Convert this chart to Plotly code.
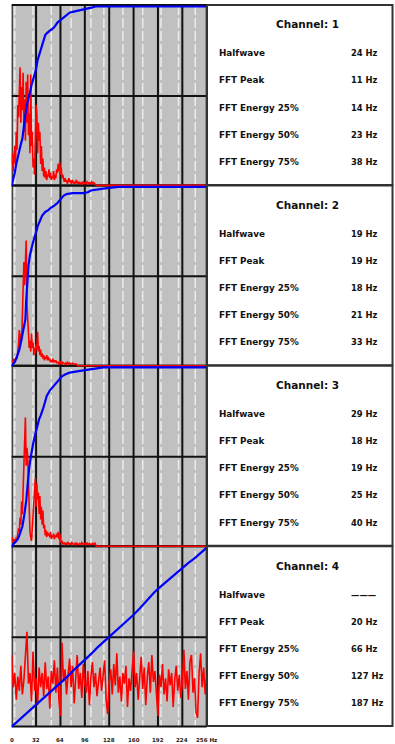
import plotly.graph_objects as go

W, H = 395, 744

# ---- axis ticks -------------------------------------------------------------
freq_ticks = [0, 32, 64, 96, 128, 160, 192, 224, 256]
tick_text = ["0", "32", "64", "96", "128", "160", "192", "224", "256 Hz"]
minor_lines = [4, 28, 52, 78, 104, 121, 146, 172, 196, 219, 241]

# ---- per-channel statistics -------------------------------------------------
channel_titles = ["Channel: 1", "Channel: 2", "Channel: 3", "Channel: 4"]
stat_labels = ["Halfwave", "FFT Peak", "FFT Energy 25%", "FFT Energy 50%", "FFT Energy 75%"]
ch1_stats = ["24 Hz", "11 Hz", "14 Hz", "23 Hz", "38 Hz"]
ch2_stats = ["19 Hz", "19 Hz", "18 Hz", "21 Hz", "33 Hz"]
ch3_stats = ["29 Hz", "18 Hz", "19 Hz", "25 Hz", "40 Hz"]
ch4_stats = ["———", "20 Hz", "66 Hz", "127 Hz", "187 Hz"]

# ---- spectra (relative magnitude) ------------------------------------------
ch1_fft_hz = list(range(111)) + [111, 256]
ch1_fft = [
    0.12, 0.18, 0.08, 0.15, 0.22, 0.12, 0.30, 0.20, 0.45, 0.38,
    0.65, 0.66, 0.35, 0.55, 0.42, 0.63, 0.30, 0.48, 0.25, 0.58,
    0.35, 0.62, 0.28, 0.40, 0.18, 0.62, 0.22, 0.30, 0.10, 0.15,
    0.06, 0.30, 0.45, 0.40, 0.18, 0.35, 0.25, 0.30, 0.12, 0.22,
    0.08, 0.15, 0.05, 0.10, 0.04, 0.08, 0.03, 0.06, 0.05, 0.09,
    0.04, 0.07, 0.03, 0.05, 0.04, 0.08, 0.03, 0.06, 0.04, 0.09,
    0.07, 0.12, 0.08, 0.13, 0.06, 0.10, 0.04, 0.06, 0.03, 0.02,
    0.04, 0.02, 0.03, 0.01, 0.02, 0.04, 0.02, 0.03, 0.01, 0.02,
    0.03, 0.01, 0.02, 0.01, 0.02, 0.03, 0.01, 0.02, 0.01, 0.02,
    0.01, 0.01, 0.015, 0.01, 0.02, 0.01, 0.01, 0.015, 0.01, 0.02,
    0.01, 0.01, 0.015, 0.01, 0.01, 0.02, 0.01, 0.01, 0.015, 0.01,
    0.01, 0.0, 0.0,
]

ch2_fft_hz = list(range(86)) + [86, 256]
ch2_fft = [
    0.02, 0.03, 0.02, 0.04, 0.02, 0.03, 0.05, 0.04, 0.08, 0.12,
    0.20, 0.10, 0.18, 0.14, 0.28, 0.40, 0.58, 0.45, 0.62, 0.70,
    0.35, 0.28, 0.15, 0.10, 0.14, 0.08, 0.18, 0.10, 0.13, 0.06,
    0.10, 0.07, 0.12, 0.09, 0.19, 0.08, 0.11, 0.06, 0.09, 0.05,
    0.07, 0.04, 0.06, 0.03, 0.05, 0.04, 0.06, 0.03, 0.05, 0.03,
    0.04, 0.02, 0.03, 0.02, 0.04, 0.02, 0.03, 0.02, 0.03, 0.015,
    0.02, 0.02, 0.01, 0.015, 0.02, 0.01, 0.01, 0.02, 0.015, 0.01,
    0.01, 0.015, 0.01, 0.02, 0.01, 0.01, 0.015, 0.01, 0.01, 0.01,
    0.015, 0.01, 0.01, 0.01, 0.01, 0.01, 0.0, 0.0,
]

ch3_fft_hz = list(range(111)) + [111, 256]
ch3_fft = [
    0.03, 0.05, 0.02, 0.03, 0.04, 0.02, 0.05, 0.04, 0.07, 0.10,
    0.08, 0.16, 0.12, 0.25, 0.18, 0.30, 0.52, 0.60, 0.72, 0.45,
    0.55, 0.50, 0.30, 0.15, 0.08, 0.05, 0.03, 0.10, 0.18, 0.25,
    0.30, 0.38, 0.22, 0.35, 0.26, 0.30, 0.18, 0.28, 0.15, 0.22,
    0.12, 0.20, 0.10, 0.12, 0.06, 0.09, 0.05, 0.08, 0.06, 0.07,
    0.05, 0.08, 0.04, 0.06, 0.05, 0.07, 0.04, 0.06, 0.05, 0.07,
    0.05, 0.08, 0.04, 0.07, 0.03, 0.02, 0.03, 0.01, 0.02, 0.01,
    0.02, 0.01, 0.015, 0.01, 0.02, 0.01, 0.01, 0.015, 0.01, 0.02,
    0.01, 0.01, 0.01, 0.015, 0.01, 0.02, 0.01, 0.01, 0.01, 0.015,
    0.01, 0.01, 0.02, 0.01, 0.01, 0.015, 0.01, 0.01, 0.01, 0.02,
    0.01, 0.01, 0.015, 0.01, 0.01, 0.01, 0.015, 0.01, 0.01, 0.02,
    0.01, 0.0, 0.0,
]

ch4_fft_hz = list(range(0, 257, 2))
ch4_fft = [
    0.40, 0.22, 0.30, 0.15, 0.28, 0.20, 0.34, 0.18, 0.26, 0.38,
    0.53, 0.24, 0.30, 0.14, 0.42, 0.20, 0.27, 0.12, 0.33, 0.22,
    0.30, 0.17, 0.36, 0.21, 0.28, 0.10, 0.31, 0.24, 0.37, 0.19,
    0.33, 0.15, 0.06, 0.47, 0.25, 0.32, 0.18, 0.29, 0.38, 0.22,
    0.34, 0.13, 0.27, 0.40, 0.21, 0.30, 0.16, 0.35, 0.24, 0.19,
    0.31, 0.12, 0.28, 0.36, 0.22, 0.30, 0.17, 0.26, 0.33, 0.20,
    0.29, 0.37, 0.15, 0.07, 0.25, 0.32, 0.18, 0.35, 0.23, 0.41,
    0.19, 0.28, 0.14, 0.30, 0.24, 0.34, 0.11, 0.27, 0.20, 0.33,
    0.42, 0.22, 0.30, 0.15, 0.26, 0.39, 0.21, 0.33, 0.12, 0.28,
    0.36, 0.19, 0.40, 0.25, 0.31, 0.17, 0.06, 0.29, 0.22, 0.35,
    0.18, 0.27, 0.14, 0.32, 0.23, 0.30, 0.11, 0.26, 0.34, 0.20,
    0.29, 0.16, 0.24, 0.43, 0.21, 0.31, 0.15, 0.36, 0.40, 0.19,
    0.27, 0.08, 0.05, 0.30, 0.41, 0.22, 0.33, 0.18, 0.27,
]

# ---- cumulative energy (fraction of total) ----------------------------------
ch1_cum_hz = [0, 2, 4, 6, 8, 10, 12, 14, 16, 18, 20, 22, 24, 26, 28, 30, 32, 34,
              36, 38, 40, 42, 44, 46, 48, 50, 52, 56, 60, 64, 68, 72, 76, 80, 86,
              90, 96, 100, 106, 110, 256]
ch1_cum = [0.00, 0.03, 0.07, 0.12, 0.16, 0.19, 0.23, 0.26, 0.34, 0.40, 0.45, 0.48,
           0.52, 0.56, 0.59, 0.62, 0.65, 0.70, 0.73, 0.76, 0.79, 0.82, 0.84, 0.85,
           0.86, 0.865, 0.87, 0.885, 0.91, 0.925, 0.94, 0.955, 0.965, 0.97, 0.975,
           0.98, 0.985, 0.99, 0.995, 1.0, 1.0]

ch2_cum_hz = [0, 2, 4, 6, 8, 10, 12, 14, 16, 18, 19, 20, 21, 22, 24, 26, 28, 30,
              32, 33, 34, 36, 38, 40, 44, 48, 52, 56, 60, 64, 68, 72, 80, 94, 100,
              104, 110, 120, 140, 256]
ch2_cum = [0.00, 0.01, 0.02, 0.04, 0.06, 0.09, 0.13, 0.17, 0.22, 0.26, 0.36, 0.45,
           0.51, 0.56, 0.62, 0.66, 0.69, 0.72, 0.74, 0.76, 0.78, 0.80, 0.82, 0.84,
           0.86, 0.87, 0.885, 0.895, 0.91, 0.93, 0.95, 0.96, 0.965, 0.965, 0.97,
           0.98, 0.985, 0.99, 1.0, 1.0]

ch3_cum_hz = [0, 2, 4, 6, 8, 10, 12, 14, 16, 18, 19, 20, 21, 22, 23, 24, 25, 26,
              28, 30, 32, 34, 36, 38, 40, 42, 44, 46, 50, 54, 58, 62, 66, 70, 76,
              90, 104, 112, 120, 256]
ch3_cum = [0.00, 0.01, 0.02, 0.03, 0.04, 0.06, 0.08, 0.11, 0.16, 0.21, 0.25, 0.30,
           0.36, 0.41, 0.44, 0.47, 0.50, 0.53, 0.57, 0.61, 0.65, 0.68, 0.71, 0.73,
           0.75, 0.78, 0.81, 0.84, 0.87, 0.89, 0.91, 0.93, 0.95, 0.96, 0.97, 0.98,
           0.99, 0.995, 1.0, 1.0]

ch4_cum_hz = [0, 8, 16, 24, 32, 40, 48, 56, 64, 66, 72, 80, 88, 96, 104, 112, 120,
              127, 136, 144, 152, 160, 168, 176, 184, 187, 192, 200, 208, 216, 224,
              232, 240, 248, 256]
ch4_cum = [0.0, 0.03, 0.06, 0.09, 0.12, 0.155, 0.185, 0.215, 0.245, 0.25, 0.275,
           0.31, 0.34, 0.37, 0.405, 0.44, 0.47, 0.50, 0.535, 0.565, 0.595, 0.625,
           0.66, 0.70, 0.735, 0.75, 0.77, 0.80, 0.83, 0.86, 0.885, 0.915, 0.94,
           0.97, 1.0]

channels = [
    (ch1_fft_hz, ch1_fft, ch1_cum_hz, ch1_cum, ch1_stats),
    (ch2_fft_hz, ch2_fft, ch2_cum_hz, ch2_cum, ch2_stats),
    (ch3_fft_hz, ch3_fft, ch3_cum_hz, ch3_cum, ch3_stats),
    (ch4_fft_hz, ch4_fft, ch4_cum_hz, ch4_cum, ch4_stats),
]

# ---- geometry (pixels) ------------------------------------------------------
X0, X1 = 11.7, 206.7          # plot area left / right
TOP, PANEL_H = 5.0, 180.4     # first panel top and panel height
PAD = 3.0                     # extra domain so edge lines are not clipped
BLUE_INSET = 1.5              # full-scale sits just below the panel top
BOX_X0, BOX_X1 = 207.0, 392.5


def px(x):
    return x / W


def py(y):
    return 1 - y / H


fig = go.Figure()
shapes = []
annotations = []

# grey field
shapes.append(dict(type="rect", xref="paper", yref="paper", layer="below",
                   x0=px(X0), x1=px(X1), y0=py(TOP), y1=py(TOP + 4 * PANEL_H),
                   fillcolor="#c0c0c0", line=dict(width=0)))
# light dashed minor verticals
for f in minor_lines:
    shapes.append(dict(type="line", xref="x", yref="paper", layer="below",
                       x0=f, x1=f, y0=py(TOP), y1=py(TOP + 4 * PANEL_H),
                       line=dict(color="#ececec", width=1.5, dash="10px,3px")))

layout_axes = {}
for k, (fhz, fval, chz, cval, stats) in enumerate(channels):
    T = TOP + k * PANEL_H
    B = T + PANEL_H
    s = PANEL_H - BLUE_INSET
    idx = "" if k == 0 else str(k + 1)
    layout_axes["xaxis" + idx] = dict(domain=[px(X0), px(X1)], range=[0, 256],
                                      visible=False, fixedrange=True,
                                      anchor="y" + idx)
    layout_axes["yaxis" + idx] = dict(domain=[py(B + PAD), py(T - PAD)],
                                      range=[-PAD / s, 1 + (BLUE_INSET + PAD) / s],
                                      visible=False, fixedrange=True,
                                      anchor="x" + idx)
    fig.add_trace(go.Scatter(x=fhz, y=fval, mode="lines", xaxis="x" + idx,
                             yaxis="y" + idx, line=dict(color="#ff0000", width=1.6),
                             hoverinfo="skip", showlegend=False))
    fig.add_trace(go.Scatter(x=chz, y=cval, mode="lines", xaxis="x" + idx,
                             yaxis="y" + idx, line=dict(color="#0000ff", width=2.2),
                             hoverinfo="skip", showlegend=False))

    # horizontal grid: top, middle, bottom
    for yy in (T, (T + BLUE_INSET + B) / 2, B):
        shapes.append(dict(type="line", xref="paper", yref="paper", layer="below",
                           x0=px(X0), x1=px(X1), y0=py(yy), y1=py(yy),
                           line=dict(color="#111111", width=2)))

    # statistics box
    shapes.append(dict(type="rect", xref="paper", yref="paper",
                       x0=px(BOX_X0), x1=px(BOX_X1), y0=py(B - 0.5), y1=py(T),
                       fillcolor="white", line=dict(color="#333333", width=2)))
    annotations.append(dict(text=channel_titles[k], xref="paper", yref="paper",
                            x=px(307), y=py(T + 19.3), showarrow=False,
                            xanchor="center", yanchor="middle",
                            font=dict(family="DejaVu Sans", size=10.5,
                                      color="#111111", weight="bold")))
    for i, (lab, val) in enumerate(zip(stat_labels, stats)):
        yy = T + 48.3 + 27.1 * i
        annotations.append(dict(text=lab, xref="paper", yref="paper",
                                x=px(216.5), y=py(yy), showarrow=False,
                                xanchor="left", yanchor="middle",
                                font=dict(family="DejaVu Sans", size=8.8,
                                          color="#111111", weight="bold")))
        annotations.append(dict(text=val, xref="paper", yref="paper",
                                x=px(349), y=py(yy), showarrow=False,
                                xanchor="left", yanchor="middle",
                                font=dict(family="DejaVu Sans", size=8.4,
                                          color="#111111", weight="bold")))

# vertical major grid
for f in freq_ticks:
    shapes.append(dict(type="line", xref="x", yref="paper", layer="below",
                       x0=f, x1=f, y0=py(TOP), y1=py(TOP + 4 * PANEL_H),
                       line=dict(color="#111111", width=2)))

# frequency labels under the last panel
for f, t in zip(freq_ticks, tick_text):
    annotations.append(dict(text=t, xref="x4", yref="paper", x=f, y=py(739.5),
                            showarrow=False, xanchor="center", yanchor="middle",
                            font=dict(family="DejaVu Sans", size=5.5,
                                      color="#222222", weight="bold")))

fig.update_layout(
    width=W, height=H,
    margin=dict(l=0, r=0, t=0, b=0),
    paper_bgcolor="white",
    plot_bgcolor="rgba(0,0,0,0)",
    shapes=shapes,
    annotations=annotations,
    showlegend=False,
    **layout_axes,
)

fig.write_html("out.html", config={"displayModeBar": False, "staticPlot": True})
